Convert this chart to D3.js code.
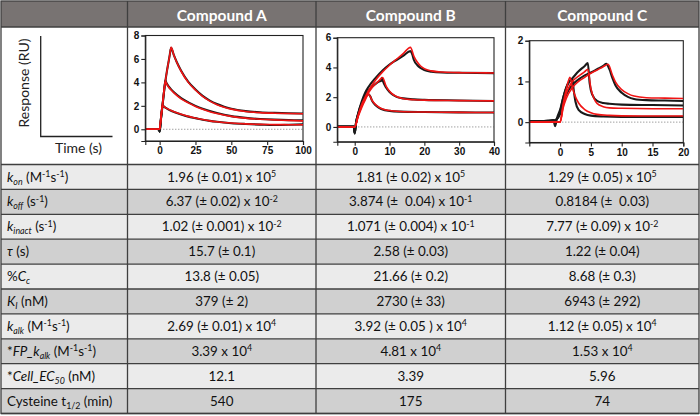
<!DOCTYPE html>
<html><head><meta charset="utf-8">
<script src="https://cdn.jsdelivr.net/npm/d3@7"></script>
<style>body{margin:0;background:#fff} text{white-space:pre}</style>
</head><body><svg id="c" width="700" height="416"></svg>
<script>
// ---------- DATA ----------
const compounds = ["Compound A", "Compound B", "Compound C"];
const rowLabels = [
  "<i>k</i><sub><i>on</i></sub> (M<sup>-1</sup>s<sup>-1</sup>)",
  "<i>k</i><sub><i>off</i></sub> (s<sup>-1</sup>)",
  "<i>k</i><sub><i>inact</i></sub> (s<sup>-1</sup>)",
  "<i>τ</i> (s)",
  "%<i>C</i><sub><i>c</i></sub>",
  "<i>K</i><sub><i>I</i></sub> (nM)",
  "<i>k</i><sub><i>alk</i></sub> (M<sup>-1</sup>s<sup>-1</sup>)",
  "*<i>FP_k</i><sub><i>alk</i></sub> (M<sup>-1</sup>s<sup>-1</sup>)",
  "*<i>Cell_EC</i><sub><i>50</i></sub> (nM)",
  "Cysteine t<sub>1/2</sub> (min)"
];
const valuesA = ["1.96 (± 0.01) x 10<sup>5</sup>", "6.37 (± 0.02) x 10<sup>-2</sup>", "1.02 (± 0.001) x 10<sup>-2</sup>", "15.7 (± 0.1)", "13.8 (± 0.05)", "379 (± 2)", "2.69 (± 0.01) x 10<sup>4</sup>", "3.39 x 10<sup>4</sup>", "12.1", "540"];
const valuesB = ["1.81 (± 0.02) x 10<sup>5</sup>", "3.874 (±  0.04) x 10<sup>-1</sup>", "1.071 (± 0.004) x 10<sup>-1</sup>", "2.58 (± 0.03)", "21.66 (± 0.2)", "2730 (± 33)", "3.92 (± 0.05 ) x 10<sup>4</sup>", "4.81 x 10<sup>4</sup>", "3.39", "175"];
const valuesC = ["1.29 (± 0.05) x 10<sup>5</sup>", "0.8184 (±  0.03)", "7.77 (± 0.09) x 10<sup>-2</sup>", "1.22 (± 0.04)", "8.68 (± 0.3)", "6943 (± 292)", "1.12 (± 0.05) x 10<sup>4</sup>", "1.53 x 10<sup>4</sup>", "5.96", "74"];

// Sensorgram traces: [time (s), response (RU)]
const A_fit1 = [[-10,0],[0,0],[1,1.1],[2,2.1],[3,3.2],[4,4.1],[5,4.9],[6,5.6],[7,6.3],[8,7.0],[10,6.3],[12,5.7],[15,4.95],[20,4.0],[25,3.35],[30,2.8],[35,2.4],[40,2.1],[45,1.88],[50,1.72],[60,1.52],[70,1.42],[80,1.37],[90,1.34],[100,1.32]];
const A_obs1 = [[-10,0.02],[-2,0.02],[-0.4,0],[0,-0.2],[1,1.0],[2,2.05],[3,3.15],[4,4.1],[5,4.9],[6,5.6],[7,6.3],[8,6.95],[10,6.3],[12,5.72],[15,5.0],[20,4.05],[25,3.4],[30,2.85],[35,2.45],[40,2.15],[45,1.92],[50,1.75],[60,1.55],[70,1.45],[80,1.4],[90,1.37],[100,1.35]];
const A_fit2 = [[-10,0],[0,0],[1,1.1],[2,2.1],[3,3.2],[4,4.1],[5,3.85],[6,3.65],[8,3.35],[10,3.1],[15,2.6],[20,2.25],[25,1.95],[30,1.7],[35,1.5],[40,1.35],[50,1.1],[60,0.95],[70,0.86],[80,0.8],[90,0.76],[100,0.72]];
const A_obs2 = [[-10,0.02],[-2,0.02],[-0.4,0],[0,-0.2],[1,1.0],[2,2.05],[3,3.15],[4,4.15],[5,3.9],[6,3.7],[8,3.4],[10,3.15],[15,2.65],[20,2.3],[25,2.0],[30,1.75],[35,1.55],[40,1.38],[50,1.12],[60,0.97],[70,0.88],[80,0.82],[90,0.78],[100,0.76]];
const A_fit3 = [[-10,0],[0,0],[1,1.05],[2,2.0],[4,1.85],[6,1.72],[8,1.6],[10,1.5],[15,1.28],[20,1.1],[25,0.96],[30,0.83],[35,0.72],[40,0.64],[50,0.53],[60,0.46],[70,0.42],[80,0.4],[90,0.39],[100,0.38]];
const A_obs3 = [[-10,0.02],[-2,0.02],[-0.4,0],[0,-0.2],[1,1.0],[2,2.0],[4,1.85],[6,1.7],[8,1.58],[10,1.48],[15,1.26],[20,1.08],[25,0.95],[30,0.82],[35,0.72],[40,0.64],[50,0.52],[60,0.45],[70,0.4],[80,0.36],[90,0.38],[100,0.42]];

const B_fit1 = [[-5,0],[0,0],[1,0.8],[2,1.5],[3,2.0],[4,2.45],[6,3.15],[8,3.7],[10,4.15],[12,4.55],[14,4.95],[16,5.35],[17,4.75],[18,4.35],[19,4.08],[20,3.92],[22,3.77],[25,3.69],[30,3.65],[35,3.64],[40,3.63]];
const B_obs1 = [[-5,0.02],[-0.3,0.02],[0,-0.45],[0.4,0.3],[1,0.9],[2,1.7],[3,2.3],[4,2.7],[6,3.3],[8,3.8],[10,4.2],[12,4.5],[14,4.8],[16,5.1],[16.5,4.9],[17,4.5],[18,4.15],[19,3.95],[20,3.82],[22,3.72],[25,3.66],[30,3.64],[40,3.62]];
const B_fit2 = [[-5,0],[0,0],[1,0.75],[2,1.4],[3,1.9],[4,2.3],[5,2.65],[6,2.9],[7,3.12],[8,3.32],[9,2.75],[10,2.4],[11,2.18],[12,2.04],[14,1.9],[17,1.83],[20,1.8],[30,1.77],[40,1.75]];
const B_obs2 = [[-5,0.02],[-0.3,0.02],[0,-0.4],[0.4,0.3],[1,0.85],[2,1.55],[3,2.1],[4,2.45],[5,2.7],[6,2.9],[7,3.05],[7.6,3.1],[7.8,3.3],[8,3.15],[9,2.65],[10,2.35],[11,2.15],[12,2.02],[14,1.92],[17,1.85],[20,1.82],[30,1.78],[40,1.74]];
const B_fit3 = [[-5,0],[0,0],[1,0.7],[2,1.3],[3,1.8],[4,2.2],[5,1.78],[6,1.5],[7,1.32],[8,1.2],[10,1.1],[13,1.04],[20,1.0],[30,0.98],[40,0.97]];
const B_obs3 = [[-5,0.02],[-0.3,0.02],[0,-0.4],[0.4,0.3],[1,0.9],[2,1.6],[3,2.0],[4,2.2],[4.5,2.05],[5,1.75],[6,1.45],[7,1.28],[8,1.17],[10,1.08],[13,1.03],[20,1.0],[30,0.98],[40,0.97]];

const C_fit1 = [[-5,0],[0,0],[0.5,0.45],[1,0.8],[1.6,1.1],[2,0.85],[2.5,0.62],[3,0.47],[4,0.31],[5,0.23],[6,0.19],[8,0.165],[10,0.155],[15,0.15],[20,0.15]];
const C_obs1 = [[-5,0.02],[-2,0.03],[-1.1,0.05],[-0.8,-0.1],[-0.5,0.1],[0,0.3],[0.5,0.6],[1,0.85],[1.5,1.0],[2,1.05],[2.2,0.8],[2.5,0.5],[3,0.3],[4,0.2],[5,0.16],[7,0.14],[10,0.13],[15,0.13],[20,0.13]];
const C_fit2 = [[-5,0],[0,0],[0.5,0.4],[1,0.7],[1.5,0.88],[2,1.0],[3,1.13],[4,1.24],[4.5,1.3],[5,0.82],[5.5,0.58],[6,0.46],[7,0.38],[8,0.35],[10,0.34],[15,0.33],[20,0.33]];
const C_obs2 = [[-5,0.02],[-1,0.04],[-0.5,0.08],[0,0.25],[0.5,0.6],[1,0.85],[1.5,1.0],[2,1.08],[3,1.25],[4,1.38],[4.5,1.45],[4.8,0.95],[5.2,0.68],[6,0.52],[7,0.47],[8,0.45],[10,0.43],[15,0.42],[20,0.41]];
const C_fit3 = [[-5,0],[0,0],[0.5,0.35],[1,0.58],[2,0.85],[3,1.0],[4,1.1],[5,1.2],[6,1.28],[7,1.36],[7.8,1.42],[8.5,1.15],[9,0.98],[10,0.8],[11,0.7],[12,0.64],[14,0.6],[17,0.59],[20,0.58]];
const C_obs3 = [[-5,0.02],[-1,0.04],[0,0.2],[0.5,0.5],[1,0.68],[2,0.92],[3,1.05],[4,1.15],[5,1.22],[6,1.3],[7,1.38],[7.5,1.43],[8,1.3],[8.5,1.08],[9,0.9],[10,0.72],[11,0.62],[12,0.57],[14,0.54],[17,0.53],[20,0.52]];

const xTicksA = [0,25,50,75,100], yTicksA = [0,2,4,6,8];
const xTicksB = [0,10,20,30,40],  yTicksB = [0,2,4,6];
const xTicksC = [0,5,10,15,20],   yTicksC = [0,1,2];

// ---------- LAYOUT ----------
const svg = d3.select("#c");
const W = 700, H = 416;
const colX = [1, 127.5, 316, 505.5, 699];
const headerTop = 1, headerBot = 27, chartBot = 164.5, rowH = 24.9;
const FONT = "Lato, 'Open Sans', sans-serif";
const lineCol = "#3f3f3f";

svg.append("rect").attr("width", W).attr("height", H).attr("fill", "#fff");
svg.append("rect").attr("x", colX[0]).attr("y", headerTop).attr("width", colX[4]-colX[0]).attr("height", headerBot-headerTop).attr("fill", "#787372");

rowLabels.forEach((_, i) => {
  svg.append("rect").attr("x", colX[0]).attr("y", chartBot + i*rowH)
    .attr("width", colX[4]-colX[0]).attr("height", rowH)
    .attr("fill", i % 2 === 0 ? "#ebebeb" : "#d0d0d0");
});
const tableBot = chartBot + rowLabels.length*rowH;

function rich(sel, str, size) {
  const re = /<(\/?)(i|sub|sup)>/g;
  const st = {i:false, sub:false, sup:false};
  const parts = []; let last = 0, m;
  while ((m = re.exec(str))) {
    if (m.index > last) parts.push({t: str.slice(last, m.index), ...st});
    st[m[2]] = !m[1]; last = re.lastIndex;
  }
  if (last < str.length) parts.push({t: str.slice(last), ...st});
  let cur = 0;
  parts.forEach(p => {
    const off = p.sup ? -4.5 : p.sub ? 3 : 0;
    const ts = sel.append("tspan").text(p.t).attr("dy", off - cur);
    cur = off;
    if (p.sup || p.sub) ts.attr("font-size", size*0.66);
    if (p.i) ts.attr("font-style", "italic");
  });
}

// header
compounds.forEach((c, i) => {
  svg.append("text").attr("x", (colX[i+1]+colX[i+2])/2).attr("y", 14.5)
    .attr("text-anchor", "middle").attr("dominant-baseline", "central")
    .attr("font-family", FONT).attr("font-weight", "bold").attr("font-size", 15.5)
    .attr("fill", "#fff").text(c);
});

// rows
const fs = 13.4;
rowLabels.forEach((lab, i) => {
  const yc = chartBot + i*rowH + rowH/2 + 4.6;
  rich(svg.append("text").attr("x", 7).attr("y", yc).attr("font-family", FONT).attr("font-size", fs).attr("fill", "#111"), lab, fs);
  [valuesA, valuesB, valuesC].forEach((vals, j) => {
    rich(svg.append("text").attr("x", (colX[j+1]+colX[j+2])/2).attr("y", yc)
      .attr("text-anchor", "middle").attr("font-family", FONT).attr("font-size", fs).attr("fill", "#111"), vals[i], fs);
  });
});

// grid lines
const g = svg.append("g").attr("stroke", lineCol).attr("stroke-width", 1.3);
[headerBot, chartBot].concat(rowLabels.map((_, i) => chartBot + (i+1)*rowH)).forEach(y => {
  g.append("line").attr("x1", colX[0]).attr("x2", colX[4]).attr("y1", y).attr("y2", y);
});
colX.slice(1, 4).forEach(x => g.append("line").attr("x1", x).attr("x2", x).attr("y1", headerTop).attr("y2", tableBot));
g.append("rect").attr("x", colX[0]).attr("y", headerTop).attr("width", colX[4]-colX[0]).attr("height", tableBot-headerTop).attr("fill", "none");

// schematic
svg.append("path").attr("d", `M40.7,36 L40.7,136.5 L112.5,136.5`).attr("fill", "none").attr("stroke", "#222").attr("stroke-width", 1.3);
svg.append("text").attr("transform", "translate(23,83) rotate(-90)").attr("text-anchor", "middle").attr("dominant-baseline", "central")
  .attr("font-family", FONT).attr("font-size", 14).attr("fill", "#222").text("Response (RU)");
svg.append("text").attr("x", 78.5).attr("y", 147).attr("text-anchor", "middle").attr("dominant-baseline", "central")
  .attr("font-family", FONT).attr("font-size", 14).attr("fill", "#222").text("Time (s)");

// charts
function chart(cfg) {
  const x = d3.scaleLinear().domain(cfg.xd).range(cfg.xr);
  const y = d3.scaleLinear().domain(cfg.yd).range(cfg.yr);
  const gg = svg.append("g");
  gg.append("rect").attr("x", cfg.xr[0]).attr("y", cfg.yr[1]).attr("width", cfg.xr[1]-cfg.xr[0]).attr("height", cfg.yr[0]-cfg.yr[1])
    .attr("fill", "#fff").attr("stroke", "#222").attr("stroke-width", 1.1);
  gg.append("line").attr("x1", cfg.xr[0]).attr("x2", cfg.xr[1]).attr("y1", y(0)).attr("y2", y(0))
    .attr("stroke", "#555").attr("stroke-width", 0.8).attr("stroke-dasharray", "1,2");
  const line = d3.line().x(d => x(d[0])).y(d => y(d[1])).curve(d3.curveMonotoneX);
  const clip = "clip" + cfg.id;
  gg.append("clipPath").attr("id", clip).append("rect").attr("x", cfg.xr[0]).attr("y", cfg.yr[1]).attr("width", cfg.xr[1]-cfg.xr[0]).attr("height", cfg.yr[0]-cfg.yr[1]);
  const pg = gg.append("g").attr("clip-path", `url(#${clip})`);
  cfg.obs.forEach(d => pg.append("path").attr("d", line(d)).attr("fill", "none").attr("stroke", "#1a1a1a").attr("stroke-width", 2.1).attr("stroke-linejoin", "round"));
  cfg.fit.forEach(d => pg.append("path").attr("d", line(d)).attr("fill", "none").attr("stroke", "#f01414").attr("stroke-width", 1.6).attr("stroke-linejoin", "round"));
  const ax = gg.append("g").attr("transform", `translate(0,${cfg.yr[0]})`)
    .call(d3.axisBottom(x).tickValues(cfg.xt).tickSize(4).tickPadding(2).tickFormat(d3.format("d")));
  const ay = gg.append("g").attr("transform", `translate(${cfg.xr[0]},0)`)
    .call(d3.axisLeft(y).tickValues(cfg.yt).tickSize(4).tickPadding(2).tickFormat(d3.format("d")));
  [ax, ay].forEach(a => {
    a.select(".domain").attr("stroke", "#222").attr("stroke-width", 1.1);
    a.selectAll(".tick line").attr("stroke", "#222").attr("stroke-width", 1.1);
    a.selectAll("text").attr("font-family", "'Liberation Sans', Arial, sans-serif").attr("font-weight", "bold").attr("font-size", 10).attr("fill", "#111");
  });
}
chart({id:"A", xd:[-10,100], xr:[145.3,303], yd:[-1,8], yr:[141,35.5], xt:xTicksA, yt:yTicksA,
  obs:[A_obs1,A_obs2,A_obs3], fit:[A_fit1,A_fit2,A_fit3]});
chart({id:"B", xd:[-5,40], xr:[337.3,494], yd:[-1,6], yr:[141.8,37.7], xt:xTicksB, yt:yTicksB,
  obs:[B_obs1,B_obs2,B_obs3], fit:[B_fit1,B_fit2,B_fit3]});
chart({id:"C", xd:[-5,20], xr:[529.3,683.3], yd:[-0.5,2], yr:[142.5,40.7], xt:xTicksC, yt:yTicksC,
  obs:[C_obs1,C_obs2,C_obs3], fit:[C_fit1,C_fit2,C_fit3]});
</script>
</body></html>
